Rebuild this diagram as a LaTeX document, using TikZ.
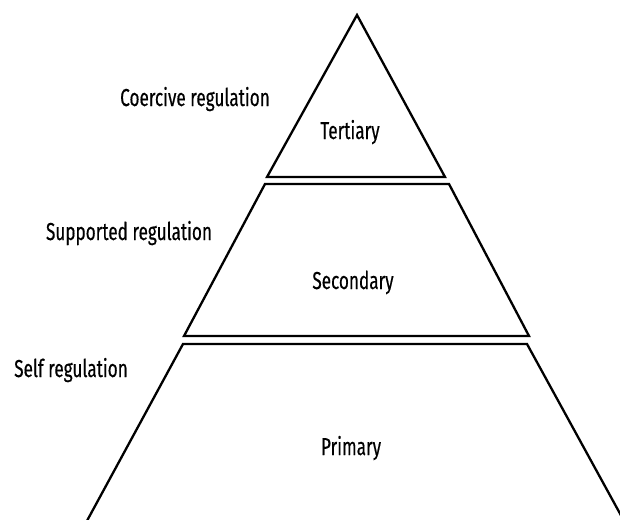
\documentclass[tikz,border=0pt]{standalone}
\usepackage{fontspec}
\newfontfamily\condfont[FakeStretch=0.7, FakeBold=0.4]{Fira Sans}
\usepackage{tikz}

\begin{document}
\begin{tikzpicture}[x=1pt, y=-1pt,
        layer/.style={line width=2.3pt, line join=miter},
        lbl/.style={font=\condfont\fontsize{24.5}{28}\selectfont, anchor=base, inner sep=0pt}]
    \useasboundingbox (0, 0) rectangle (620, 519);
    \clip (0, 0) rectangle (620, 519);
    % tiers
    \draw[layer] (357, 15) -- (445, 177) -- (267, 177) -- cycle;
    \draw[layer] (265, 184) -- (449, 184) -- (529, 336) -- (184, 336) -- cycle;
    \draw[layer] (82, 530) -- (183, 344) -- (527, 344) -- (629, 530);
    % tier names
    \node[lbl] (tert) at (350, 139) {Tertiary};
    \node[lbl] (sec) at (353, 289) {Secondary};
    \node[lbl] (prim) at (351, 455) {Primary};
    % regulation labels
    \node[lbl] (coer) at (195, 106) {Coercive regulation};
    \node[lbl] (supp) at (129, 240) {Supported regulation};
    \node[lbl] (self) at (71, 377) {Self regulation};
\end{tikzpicture}
\end{document}
